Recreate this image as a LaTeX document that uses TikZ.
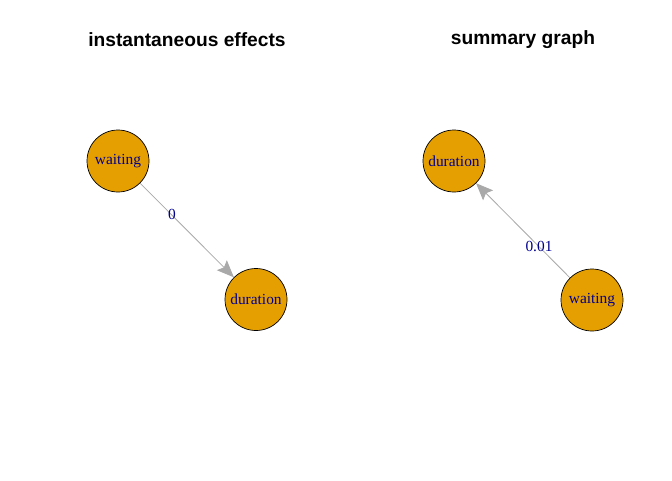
\documentclass[tikz,border=0pt]{standalone}
\usepackage{fontspec}
\setmainfont{Liberation Serif}
\setsansfont{Liberation Sans}
\usetikzlibrary{arrows.meta}
\definecolor{vfill}{HTML}{E69F00}
\definecolor{lblue}{RGB}{0,0,139}
\definecolor{egray}{RGB}{169,169,169}
\tikzset{
  vtx/.style={circle, draw=black, line width=0.7pt, fill=vfill, minimum size=62pt, inner sep=0pt, text=lblue, font=\fontsize{15.4}{15.4}\selectfont},
  edg/.style={draw=egray, line width=0.8pt, -{Stealth[length=17pt,width=14pt,inset=3pt]}},
  elab/.style={text=lblue, font=\fontsize{15.4}{15.4}\selectfont, inner sep=1pt},
  ttl/.style={font=\sffamily\bfseries\fontsize{19.2}{19.2}\selectfont}
}
\begin{document}
\begin{tikzpicture}[x=1pt,y=-1pt]
\useasboundingbox[fill=white] (0,0) rectangle (672,480);
\node[ttl] (t1) at (187,40) {instantaneous effects};
\node[ttl] (t2) at (523,40) {summary graph};
\node[vtx] (w1) at (118,161) {waiting};
\node[vtx] (d1) at (256,299.5) {duration};
\draw[edg] (w1) -- (d1);
\node[elab] (l1) at (172,214) {0};
\node[vtx] (d2) at (454,161) {duration};
\node[vtx] (w2) at (592,300) {waiting};
\draw[edg] (w2) -- (d2);
\node[elab] (l2) at (539,246) {0.01};
\end{tikzpicture}
\end{document}
